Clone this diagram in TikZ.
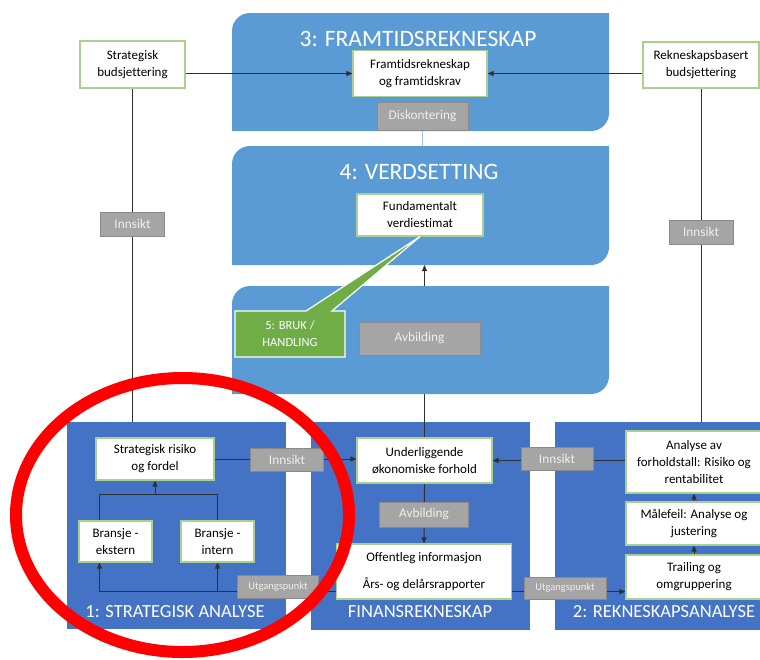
\documentclass[tikz,border=0pt]{standalone}
\usepackage{fontspec}
\setmainfont{Carlito}[RawFeature={-liga;-dlig}]
\usetikzlibrary{arrows.meta,calc,shapes.callouts}

\definecolor{panellight}{HTML}{5B9BD5}
\definecolor{paneldark}{HTML}{4472C4}
\definecolor{boxedge}{HTML}{A9D18E}
\definecolor{greyfill}{HTML}{A5A5A5}
\definecolor{greyedge}{HTML}{8A8A8A}
\definecolor{greytext}{HTML}{EFEFEF}
\definecolor{calloutgreen}{HTML}{70AD47}
\definecolor{linkgrey}{HTML}{303030}
\definecolor{paleblue}{HTML}{9DC3E6}

\pgfdeclarelayer{panels}
\pgfdeclarelayer{links}
\pgfsetlayers{panels,links,main}

\tikzset{
  whitebox/.style={draw=boxedge, line width=1.1pt, fill=white, align=center,
    font=\fontsize{13}{17}\selectfont, inner sep=0pt},
  greylabel/.style={draw=greyedge, line width=0.8pt, fill=greyfill, text=greytext,
    font=\fontsize{13.3}{15}\selectfont, inner sep=0pt},
  smalllabel/.style={greylabel, font=\fontsize{10.5}{12}\selectfont},
  panelnode/.style={inner sep=0pt, outer sep=0pt},
  flatpanel/.style={panelnode, fill=paneldark},
  ptitle/.style={text=white, font=\fontsize{23.5}{25}\selectfont, inner sep=0pt},
  btitle/.style={text=white, font=\fontsize{18.5}{20}\selectfont, inner sep=0pt},
  link/.style={draw=linkgrey, line width=0.9pt},
  arr/.style={link, -{Triangle[length=6pt,width=5pt]}},
}

% panel with rounded top-left and bottom-right corners, traced from a node's anchors
\newcommand\diagpanel[2]{%
  \fill[#2] ($(#1.north west)+(0,18)$)
     .. controls ($(#1.north west)+(0,8)$) and ($(#1.north west)+(8,0)$) .. ($(#1.north west)+(18,0)$)
     -- (#1.north east)
     -- ($(#1.south east)+(0,-18)$)
     .. controls ($(#1.south east)+(0,-8)$) and ($(#1.south east)+(-8,0)$) .. ($(#1.south east)+(-18,0)$)
     -- (#1.south west) -- cycle;}

\begin{document}
\begin{tikzpicture}[x=1pt,y=-1pt]
\clip (0,0) rectangle (760,659);

% ---------- panels ----------
\node[panelnode, minimum width=377pt, minimum height=118pt] (p3) at (420.5,72) {};
\node[panelnode, minimum width=377pt, minimum height=119pt] (p4) at (420.5,205.5) {};
\node[panelnode, minimum width=377pt, minimum height=108pt] (p5) at (420.5,340) {};
\begin{pgfonlayer}{panels}
  \fill[white] (0,0) rectangle (760,659);
  \diagpanel{p3}{panellight}
  \diagpanel{p4}{panellight}
  \diagpanel{p5}{panellight}
  \node[flatpanel, minimum width=219pt, minimum height=207pt] (p1) at (176.5,525.5) {};
  \node[flatpanel, minimum width=219pt, minimum height=208pt] (pf) at (420.5,526) {};
  \node[flatpanel, minimum width=215pt, minimum height=208pt] (p2) at (662.5,526) {};
\end{pgfonlayer}

% ---------- panel titles ----------
\node[ptitle] (t3) at (418,39) {3: FRAMTIDSREKNESKAP};
\node[ptitle] (t4) at (419,172) {4: VERDSETTING};
\node[btitle] (t1) at (175,612) {1: STRATEGISK ANALYSE};
\node[btitle] (tf) at (420,612) {FINANSREKNESKAP};
\node[btitle] (t2) at (664,612) {2: REKNESKAPSANALYSE};

% ---------- boxes ----------
\node[whitebox, minimum width=105pt, minimum height=47pt] (sbud) at (132.5,64.5) {Strategisk\\budsjettering};
\node[whitebox, minimum width=116pt, minimum height=46pt] (rbud) at (701,65) {Rekneskapsbasert\\budsjettering};
\node[whitebox, minimum width=134pt, minimum height=46pt] (ftr) at (420,73.5) {Framtidsrekneskap\\og framtidskrav};
\node[whitebox, minimum width=126pt, minimum height=42pt] (fve) at (420,215) {Fundamentalt\\verdiestimat};
\node[whitebox, minimum width=118pt, minimum height=42pt] (srf) at (155,459) {Strategisk risiko\\og fordel};
\node[whitebox, minimum width=73pt, minimum height=41pt] (bext) at (115.5,541.5) {Bransje -\\ekstern};
\node[whitebox, minimum width=73pt, minimum height=41pt] (bint) at (217.5,541.5) {Bransje -\\intern};
\node[whitebox, minimum width=135pt, minimum height=45pt] (ulf) at (424.5,460.5) {Underliggende\\økonomiske forhold};
\node[whitebox, minimum width=175pt, minimum height=55pt] (off) at (424,571.5) {Offentleg informasjon\\[10pt]Års- og delårsrapporter};
\node[whitebox, minimum width=136pt, minimum height=62pt] (aav) at (694,462) {Analyse av\\forholdstall: Risiko og\\rentabilitet};
\node[whitebox, minimum width=136pt, minimum height=43pt] (mal) at (694,523.5) {Målefeil: Analyse og\\justering};
\node[whitebox, minimum width=136pt, minimum height=44pt] (trail) at (694,577) {Trailing og\\omgruppering};

% ---------- grey labels ----------
\node[greylabel, minimum width=91pt, minimum height=28pt] (disk) at (422.5,116) {Diskontering};
\node[greylabel, minimum width=121pt, minimum height=33pt] (avb1) at (419.5,338.5) {Avbilding};
\node[greylabel, minimum width=89pt, minimum height=25pt] (avb2) at (424,514.5) {Avbilding};
\node[greylabel, minimum width=73pt, minimum height=23pt] (ins1) at (287,459.5) {Innsikt};
\node[greylabel, minimum width=72pt, minimum height=23pt] (ins2) at (557,458.5) {Innsikt};
\node[greylabel, minimum width=64pt, minimum height=24pt] (ins3) at (132.5,224) {Innsikt};
\node[greylabel, minimum width=64pt, minimum height=24pt] (ins4) at (701,232) {Innsikt};
\node[smalllabel, minimum width=81pt, minimum height=23pt] (utg1) at (278,587) {Utgangspunkt};
\node[smalllabel, minimum width=82pt, minimum height=22pt] (utg2) at (565,588) {Utgangspunkt};

% ---------- callout ----------
\node[rectangle callout, callout absolute pointer={(fve.south)}, callout pointer width=26pt,
      fill=calloutgreen, draw=white, line width=1.2pt, text=white, align=center,
      font=\fontsize{12.5}{17}\selectfont, inner sep=0pt,
      minimum width=110pt, minimum height=46pt] (bruk) at (290,334) {5: BRUK /\\HANDLING};

% ---------- connectors ----------
\begin{pgfonlayer}{links}
  \draw[arr] (sbud.east |- ftr.west) -- (ftr.west);
  \draw[arr] (rbud.west |- ftr.east) -- (ftr.east);
  \draw[link] (sbud.south) -- (sbud.south |- p1.north);
  \draw[link] (rbud.south) -- (rbud.south |- p2.north);
  \draw[draw=paleblue, line width=1.4pt] (disk.south) -- (disk.south |- p4.north);
  \draw[arr] (ulf.north |- p5.north) -- (ulf.north |- p4.south);
  \draw[link] (ulf.north |- p5.south) -- (ulf.north);

  \draw[arr] (srf.east) -- (srf.east -| ulf.west);
  \draw[arr] (aav.west |- ulf.east) -- (ulf.east);
  \draw[arr] (ulf.south) -- (off.north);
  \draw[arr] ([yshift=8pt]off.south east) -- ([yshift=8pt]trail.south west);

  \coordinate (ubase) at ([yshift=8pt]off.south west);
  \draw[arr] (ubase) -| ([xshift=-16pt]bext.south);
  \draw[arr] (bint.south |- ubase) -- (bint.south);

  \coordinate (join) at ([yshift=-14pt]srf.south);
  \draw[link] ([xshift=-16pt]bext.north) |- (join) -| (bint.north);
  \draw[arr] (join) -- (srf.south);

  \draw[arr] (trail.north) -- (mal.south);
  \draw[arr] (mal.north) -- (aav.south);
\end{pgfonlayer}

% ---------- highlight ring ----------
\draw[red, line width=12pt] (182.5,515) ellipse [x radius=166.5, y radius=137];
\end{tikzpicture}
\end{document}
